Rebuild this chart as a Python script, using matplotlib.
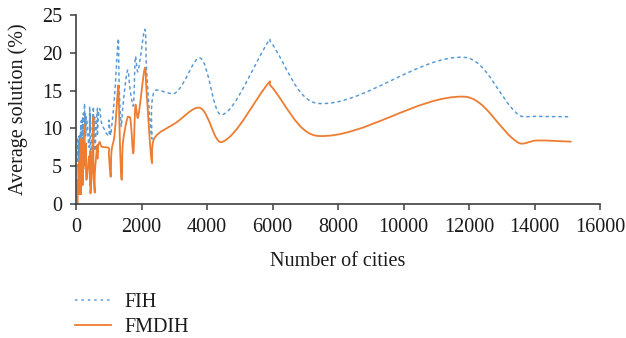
import numpy as np
import matplotlib
matplotlib.use('Agg')
import matplotlib.pyplot as plt
from matplotlib.path import Path
from matplotlib.patches import PathPatch
from matplotlib.lines import Line2D

# problem sizes (number of cities)
cities = [51, 52, 70, 76, 99, 100, 101, 105, 107, 124, 127, 130, 136, 144,
          150, 152, 159, 195, 198, 200, 225, 226, 262, 264, 280, 299, 318,
          400, 417, 431, 439, 442, 493, 532, 535, 574, 575, 654, 657, 666,
          724, 783, 1000, 1002, 1060, 1084, 1173, 1291, 1304, 1323, 1379,
          1400, 1432, 1577, 1655, 1748, 1817, 1889, 2103, 2152, 2319, 2392,
          3038, 3795, 4461, 5915, 5934, 7397, 11849, 13509, 14051, 15112]

# average solution (%)
fih = [8.6, 5.0, 8.2, 6.0, 9.0, 5.5, 8.0, 6.5, 9.0, 5.8, 8.5, 6.2, 9.5, 7.0,
       10.5, 7.5, 11.0, 8.0, 11.5, 8.2, 12.0, 9.0, 13.3, 10.5, 12.0, 9.0, 11.5,
       7.5, 12.9, 9.5, 12.0, 6.0, 10.0, 12.9, 8.5, 11.5, 7.0, 12.7, 9.0, 11.0,
       12.6, 10.7, 9.0, 11.1, 9.1, 10.0, 14.0, 21.9, 19.5, 15.0, 10.2,
       11.0, 13.0, 17.7, 15.0, 13.0, 19.5, 17.5, 23.1, 18.0, 8.6, 14.9,
       14.7, 19.3, 11.8, 21.8, 21.5, 13.3, 19.4, 11.8, 11.6, 11.55]

fmdih = [0.0, 3.2, 1.3, 4.9, 1.3, 5.6, 2.0, 1.3, 4.2, 1.3, 6.5, 2.4, 5.0, 1.3,
         7.1, 1.3, 8.7, 2.6, 6.0, 2.5, 8.5, 4.6, 10.5, 7.0, 5.1, 8.0, 3.2,
         6.3, 4.4, 2.5, 7.0, 1.4, 6.0, 11.5, 4.0, 1.5, 4.1, 7.8, 6.0, 7.5,
         8.2, 7.6, 7.4, 6.7, 3.6, 7.0, 9.0, 15.7, 14.5, 11.0, 3.5,
         3.2, 8.0, 11.5, 11.4, 6.7, 13.1, 11.4, 18.0, 15.0, 5.4, 8.7,
         10.7, 12.7, 8.2, 16.2, 15.7, 9.0, 14.2, 8.1, 8.4, 8.25]

series_names = ['FIH', 'FMDIH']
xticks = list(range(0, 16001, 2000))
yticks = list(range(0, 26, 5))

BLUE = '#5B9BD5'
ORANGE = '#ED7D31'
FONT = 'Liberation Serif'
FS = 14.5


def smooth_path(x, y, sx, sy, t=1.0 / 3):
    # excel-like smoothed line: cubic bezier through every point,
    # tangents scaled by neighbouring segment lengths (in screen units)
    p = np.column_stack([np.asarray(x, float) * sx, np.asarray(y, float) * sy])
    n = len(p)
    verts = [p[0]]
    codes = [Path.MOVETO]
    for i in range(n - 1):
        prev = p[i - 1] if i > 0 else p[i]
        nxt = p[i + 2] if i + 2 < n else p[i + 1]
        seg = np.hypot(*(p[i + 1] - p[i]))
        l0 = np.hypot(*(p[i] - prev))
        l2 = np.hypot(*(nxt - p[i + 1]))
        c1 = p[i] + (p[i + 1] - prev) * t * seg / max(l0 + seg, 1e-9)
        c2 = p[i + 1] - (nxt - p[i]) * t * seg / max(seg + l2, 1e-9)
        verts += [c1, c2, p[i + 1]]
        codes += [Path.CURVE4] * 3
    verts = np.array(verts) / [sx, sy]
    return Path(verts, codes)


fig = plt.figure(figsize=(6.26, 3.38), dpi=100)
ax = fig.add_axes([76 / 626, 1 - 204 / 338, 524 / 626, 189 / 338])
ax.set_xlim(0, 16000)
ax.set_ylim(0, 25)

# pixels per data unit, used for the smoothing
sx = 524 / 16000
sy = 189 / 25

styles = [dict(color=BLUE, lw=1.1, linestyle=(0, (1.6, 2.6))),
          dict(color=ORANGE, lw=1.3, linestyle='-')]

for vals, st in zip([fih, fmdih], styles):
    patch = PathPatch(smooth_path(cities, vals, sx, sy), facecolor='none',
                      edgecolor=st['color'], lw=st['lw'],
                      linestyle=st['linestyle'], capstyle='round',
                      joinstyle='round', clip_on=False)
    ax.add_patch(patch)

ax.set_xticks(xticks)
ax.set_yticks(yticks)
for s in ['top', 'right']:
    ax.spines[s].set_visible(False)
for s in ['left', 'bottom']:
    ax.spines[s].set_color('#404040')
    ax.spines[s].set_linewidth(1.2)
ax.tick_params(direction='out', length=4, width=1.1, color='#404040',
               labelsize=FS, labelcolor='#1a1a1a')
ax.tick_params(axis='x', pad=6)
ax.tick_params(axis='y', pad=6)
for lab in ax.get_xticklabels() + ax.get_yticklabels():
    lab.set_fontfamily(FONT)

ax.set_xlabel('Number of cities', fontsize=FS, family=FONT, color='#1a1a1a',
              labelpad=11)
ax.set_ylabel('Average solution (%)', fontsize=FS, family=FONT,
              color='#1a1a1a', labelpad=10)

handles = [Line2D([], [], **st) for st in styles]
fig.legend(handles, series_names, loc='upper left',
           bbox_to_anchor=(67 / 626, 1 - 285 / 338), frameon=False,
           prop={'family': FONT, 'size': FS}, handlelength=1.8,
           handletextpad=0.65, labelspacing=0.3, borderaxespad=0,
           labelcolor='#1a1a1a')

fig.savefig('out.png', dpi=100)
